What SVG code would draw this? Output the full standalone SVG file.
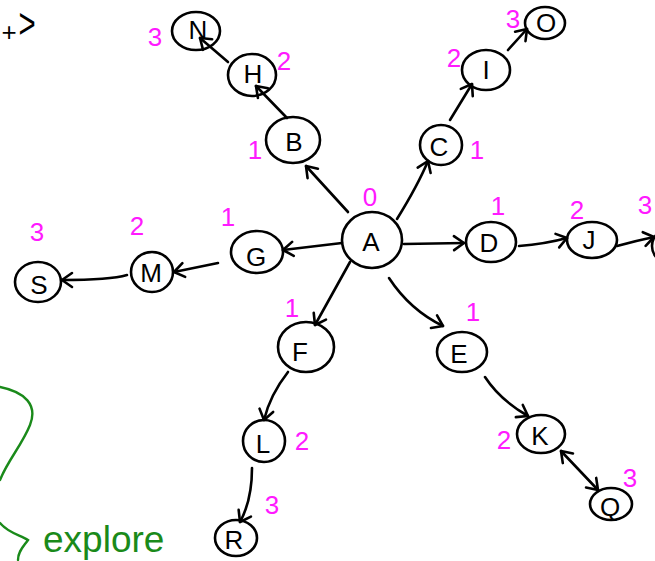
<svg xmlns="http://www.w3.org/2000/svg" width="655" height="561" viewBox="0 0 655 561">
<style>
.n{fill:none;stroke:#000;stroke-width:2.6}
.t{font-family:"Liberation Sans",Arial,sans-serif;font-size:26px;fill:#000;text-anchor:middle;dominant-baseline:central}
.d{font-family:"Liberation Sans",Arial,sans-serif;font-size:26px;fill:#ff1aff;text-anchor:middle;dominant-baseline:central}
.e{fill:none;stroke:#000;stroke-width:2.6;stroke-linecap:round;marker-end:url(#ah)}
.g{fill:none;stroke:#1a8a1a;stroke-width:2.4;stroke-linecap:round}
</style>
<defs>
<marker id="ah" markerUnits="userSpaceOnUse" markerWidth="24" markerHeight="24" viewBox="-12 -12 24 24" refX="0" refY="0" orient="auto-start-reverse">
<path d="M-10,-7 L0,0 L-10,7" fill="none" stroke="#000" stroke-width="2.6" stroke-linecap="round" stroke-linejoin="round"/>
</marker>
</defs>
<rect width="655" height="561" fill="#fff"/>
<g id="topleft">
<text x="9" y="32" style="font-family:'Liberation Sans',Arial,sans-serif;font-size:26px;text-anchor:middle;dominant-baseline:central">+</text>
<text x="0" y="0" transform="translate(27,24) scale(0.7,1)" style="font-family:'Liberation Sans',Arial,sans-serif;font-size:42px;text-anchor:middle;dominant-baseline:central">&gt;</text>
</g>
<g id="connectors">
<path class="e" d="M348,212 L306,166"/>
<path class="e" d="M287,118 L256,86"/>
<path class="e" d="M228,62 L200,38"/>
<path class="e" d="M397,219 Q418,185 428,161"/>
<path class="e" d="M450,120 L472,84"/>
<path class="e" d="M508,50 L527,29"/>
<path class="e" d="M404,244 L464,243"/>
<path class="e" d="M519,246 Q545,244 567,238"/>
<path class="e" d="M617,246 Q635,241 654,237"/>
<path class="e" d="M342,243 L283,250"/>
<path class="e" d="M218,263 L174,272"/>
<path class="e" d="M127,275 Q110,280 62,280"/>
<path class="e" d="M350,262 L315,325"/>
<path class="e" d="M288,372 Q270,395 264,420"/>
<path class="e" d="M252,468 Q252,500 240,522"/>
<path class="e" d="M389,278 Q410,310 443,326"/>
<path class="e" d="M485,377 Q500,400 528,416"/>
<path class="e" d="M561,451 L598,490" style="marker-start:url(#ah)"/>
</g>
<g id="A"><ellipse class="n" cx="372" cy="240" rx="30" ry="28"/><text class="t" x="371" y="242">A</text><text class="d" x="370" y="197">0</text></g>
<g id="B"><ellipse class="n" cx="293" cy="140" rx="27" ry="23"/><text class="t" x="294" y="142">B</text><text class="d" x="255" y="150">1</text></g>
<g id="H"><ellipse class="n" cx="252" cy="75" rx="24" ry="21"/><text class="t" x="253" y="74">H</text><text class="d" x="284" y="61">2</text></g>
<g id="N"><ellipse class="n" cx="196" cy="31" rx="24" ry="19"/><text class="t" x="198" y="30">N</text><text class="d" x="155" y="37">3</text></g>
<g id="C"><ellipse class="n" cx="441" cy="145" rx="21" ry="20"/><text class="t" x="439" y="147">C</text><text class="d" x="477" y="150">1</text></g>
<g id="I"><ellipse class="n" cx="486" cy="70" rx="24" ry="20"/><text class="t" x="486" y="70">I</text><text class="d" x="454" y="58">2</text></g>
<g id="O"><ellipse class="n" cx="545" cy="23" rx="20" ry="16"/><text class="t" x="546" y="23">O</text><text class="d" x="513" y="19">3</text></g>
<g id="D"><ellipse class="n" cx="491" cy="242" rx="25" ry="20"/><text class="t" x="489" y="243">D</text><text class="d" x="498" y="206">1</text></g>
<g id="J"><ellipse class="n" cx="592" cy="240" rx="25" ry="18"/><text class="t" x="589" y="240">J</text><text class="d" x="577" y="210">2</text></g>
<g id="P"><ellipse class="n" cx="674" cy="246" rx="22" ry="19"/><text class="d" x="645" y="205">3</text></g>
<g id="G"><ellipse class="n" cx="257" cy="252" rx="26" ry="21"/><text class="t" x="256" y="257">G</text><text class="d" x="228" y="217">1</text></g>
<g id="M"><ellipse class="n" cx="152" cy="272" rx="21" ry="20"/><text class="t" x="151" y="273">M</text><text class="d" x="137" y="226">2</text></g>
<g id="S"><ellipse class="n" cx="38" cy="282" rx="23" ry="20"/><text class="t" x="39" y="285">S</text><text class="d" x="37" y="232">3</text></g>
<g id="F"><ellipse class="n" cx="306" cy="347" rx="28" ry="25"/><text class="t" x="300" y="352">F</text><text class="d" x="292" y="308">1</text></g>
<g id="L"><ellipse class="n" cx="264" cy="441" rx="21" ry="21"/><text class="t" x="263" y="444">L</text><text class="d" x="302" y="441">2</text></g>
<g id="R"><ellipse class="n" cx="236" cy="538" rx="21" ry="18"/><text class="t" x="234" y="540">R</text><text class="d" x="272" y="505">3</text></g>
<g id="E"><ellipse class="n" cx="462" cy="352" rx="25" ry="20"/><text class="t" x="459" y="354">E</text><text class="d" x="473" y="312">1</text></g>
<g id="K"><ellipse class="n" cx="541" cy="434" rx="24" ry="19"/><text class="t" x="540" y="436">K</text><text class="d" x="504" y="440">2</text></g>
<g id="Q"><ellipse class="n" cx="611" cy="504" rx="21" ry="16"/><text class="t" x="610" y="507">Q</text><text class="d" x="630" y="478">3</text></g>
<g id="explore">
<path class="g" d="M0,387 C25,392 38,405 30,425 C22,445 8,460 0,480 M0,523 C8,533 20,535 28,540 C24,546 18,551 18,560"/>
<text x="43" y="552" style="font-family:'Liberation Sans',Arial,sans-serif;font-size:37px;fill:#1a8a1a">explore</text>
</g>
</svg>
